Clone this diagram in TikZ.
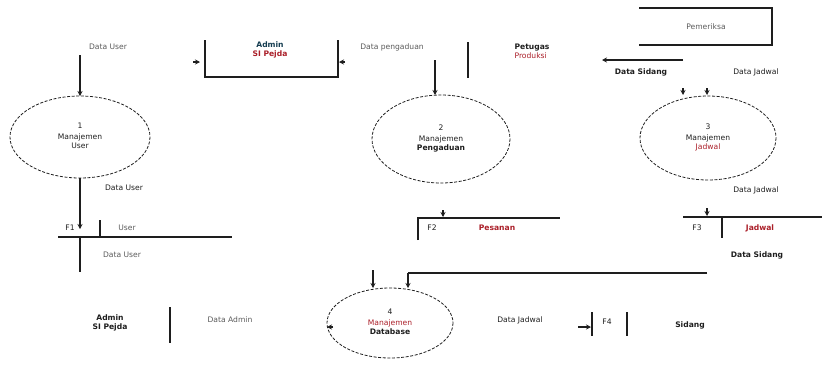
\documentclass[tikz,border=0pt]{standalone}
\usepackage{fontspec}
\setmainfont{DejaVu Sans}
\usetikzlibrary{arrows.meta}
\definecolor{ink}{RGB}{30,30,30}
\definecolor{soft}{RGB}{90,90,90}
\definecolor{redtxt}{RGB}{170,30,40}
\definecolor{teal}{RGB}{20,60,80}
\tikzset{
  proc/.style={draw=ink, dash pattern=on 3pt off 1.6pt, line width=0.8pt},
  lbl/.style={font=\fontsize{7.6}{8.6}\selectfont, text=soft, inner sep=1pt},
  blbl/.style={font=\fontsize{7.6}{8.6}\selectfont\bfseries, text=ink, inner sep=1pt},
  mlbl/.style={font=\fontsize{7.6}{8.6}\selectfont, text=ink, inner sep=1pt},
  ptext/.style={font=\fontsize{7.6}{9}\selectfont, align=center, text=ink, inner sep=0pt},
  edge/.style={draw=ink, line width=1.1pt},
  flow/.style={draw=ink, line width=1.1pt, -{Stealth[length=5pt,width=5pt]}},
}
\begin{document}
\begin{tikzpicture}[x=1pt,y=-1pt]
\useasboundingbox (0,0) rectangle (822,365);

% ---- processes ----
\draw[proc] (80,137) ellipse (70 and 41);
\node[ptext] (p1) at (80,136) {1\\[2pt]Manajemen\\User};
\coordinate (p1t) at (80,96);
\coordinate (p1b) at (80,178);

\draw[proc] (441,139) ellipse (69 and 44);
\node[ptext] (p2) at (441,138) {2\\[2pt]Manajemen\\\bfseries Pengaduan};
\coordinate (p2t) at (435,95);

\draw[proc] (708,138) ellipse (68 and 42);
\node[ptext] (p3) at (708,137) {3\\[2pt]Manajemen\\\textcolor{redtxt}{Jadwal}};

\draw[proc] (390,323) ellipse (63 and 35);
\node[ptext] (p4) at (390,322) {4\\[2pt]\textcolor{redtxt}{Manajemen}\\\bfseries Database};
\coordinate (p4a) at (373,288);
\coordinate (p4b) at (408,288);

% ---- external entities ----
\node[blbl, align=center, text=teal] (admtop) at (270,50) {Admin\\\textcolor{redtxt}{SI Pejda}};
\coordinate (a1) at (205,40);
\coordinate (a2) at (338,40);
\draw[edge] (a1) |- (338,77) -- (a2);

\node[blbl, align=left] (ptg) at (532,51) {Petugas\\\textcolor{redtxt}{\mdseries Produksi}};
\coordinate (ptgl) at (468,42);
\draw[edge] (ptgl) -- (468,78);

\node[lbl] (pem) at (706,27) {Pemeriksa};
\coordinate (pm1) at (639,8);
\draw[edge] (pm1) -- (772,8) -- (772,45) -- (639,45);

\node[blbl, align=center] (admbot) at (110,323) {Admin\\SI Pejda};
\coordinate (ab1) at (170,307);
\draw[edge] (ab1) -- (170,343);

% ---- data stores ----
% F1
\coordinate (f1l) at (58,237);
\coordinate (f1r) at (232,237);
\draw[edge] (f1l) -- (f1r);
\draw[edge] (100,220) -- (100,237);
\draw[edge] (80,237) -- (80,272);
\node[mlbl] (f1id) at (70,228) {F1};
\node[lbl] (f1n) at (127,228) {User};
\node[lbl] (f1d) at (122,255) {Data User};
% F2
\draw[edge] (418,240) -- (418,218) -- (560,218);
\node[mlbl] (f2id) at (432,228) {F2};
\node[blbl, text=redtxt] (f2n) at (497,228) {Pesanan};
% F3
\draw[edge] (683,217) -- (822,217);
\draw[edge] (722,217) -- (722,238);
\node[mlbl] (f3id) at (697,228) {F3};
\node[blbl, text=redtxt] (f3n) at (760,228) {Jadwal};
% F4
\draw[edge] (592,312) -- (592,336);
\draw[edge] (627,312) -- (627,336);
\node[mlbl] (f4id) at (607,322) {F4};
\node[blbl] (f4n) at (690,325) {Sidang};

% ---- flows ----
\node[lbl] (d1) at (108,47) {Data User};
\coordinate (d1s) at (80,55);
\draw[flow] (d1s) -- (p1t);

\draw[flow] (p1b) -- (80,229);
\node[mlbl] (d2) at (124,188) {Data User};

\node[lbl] (d3) at (392,47) {Data pengaduan};
\coordinate (d3s) at (435,60);
\draw[flow] (d3s) -- (p2t);
\draw[flow] (345,62) -- (339,62);
\draw[flow] (193,62) -- (200,62);

\coordinate (d4s) at (683,60);
\draw[flow] (d4s) -- (602,60);
\node[blbl] (d4) at (641,72) {Data Sidang};
\node[mlbl] (d5) at (756,72) {Data Jadwal};
\draw[flow] (683,88) -- (683,95);
\draw[flow] (707,88) -- (707,95);

\node[mlbl] (d6) at (756,190) {Data Jadwal};
\draw[flow] (707,208) -- (707,216);
\draw[flow] (443,210) -- (443,217);

\coordinate (d7s) at (707,273);
\draw[edge] (d7s) -- (408,273);
\draw[flow] (408,273) -- (p4b);
\draw[flow] (373,270) -- (p4a);
\node[blbl] (d7) at (757,255) {Data Sidang};

\draw[flow] (333,327) -- (327,327);
\node[mlbl] (d8) at (520,320) {Data Jadwal};
\draw[flow] (578,327) -- (591,327);

\node[lbl] (d9) at (230,320) {Data Admin};
\end{tikzpicture}
\end{document}
